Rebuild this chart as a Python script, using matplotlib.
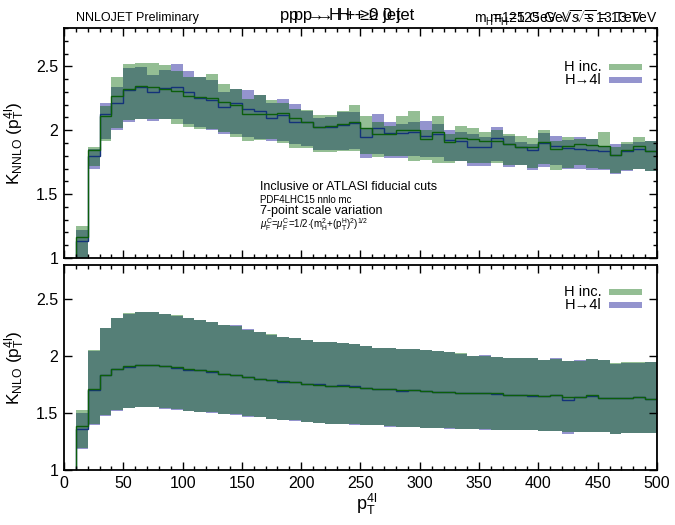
import numpy as np
import matplotlib.pyplot as plt
from matplotlib.patches import Rectangle
from matplotlib.ticker import MultipleLocator, NullLocator

plt.rcParams['font.family'] = ['Liberation Sans', 'DejaVu Sans']
plt.rcParams['mathtext.fontset'] = 'custom'
plt.rcParams['mathtext.rm'] = 'Liberation Sans'
plt.rcParams['mathtext.it'] = 'Liberation Sans:italic'

# 10 GeV bins in pT(4l), 10 -> 500 GeV
edges = np.arange(10, 501, 10)

# ---- NNLO K-factor (top panel) ----
nnlo_inc_c = [1.168, 1.845, 2.115, 2.27, 2.326, 2.345, 2.34, 2.32, 2.305, 2.268,
              2.26, 2.25, 2.22, 2.194, 2.128, 2.128, 2.128, 2.137, 2.095, 2.068,
              2.024, 2.03, 2.05, 2.063, 2.016, 1.97, 1.97, 2.0, 2.005, 1.935,
              1.99, 1.91, 1.937, 1.93, 1.918, 1.918, 1.892, 1.866, 1.866, 1.91,
              1.852, 1.873, 1.892, 1.884, 1.878, 1.81, 1.845, 1.873, 1.834]
nnlo_inc_up = [1.247, 1.87, 2.19, 2.42, 2.518, 2.53, 2.523, 2.51, 2.463, 2.418,
               2.42, 2.444, 2.365, 2.326, 2.247, 2.273, 2.234, 2.21, 2.168, 2.155,
               2.12, 2.12, 2.147, 2.194, 2.115, 2.063, 2.036, 2.11, 2.147, 2.0,
               2.115, 1.97, 2.03, 2.016, 1.99, 2.0, 1.97, 1.957, 1.937, 2.0,
               1.918, 1.945, 1.93, 1.93, 1.99, 1.87, 1.905, 1.95, 1.913]
nnlo_inc_lo = [0.95, 1.72, 1.918, 2.02, 2.08, 2.09, 2.089, 2.085, 2.05, 2.024,
               2.01, 2.01, 1.984, 1.95, 1.918, 1.925, 1.93, 1.90, 1.86, 1.858,
               1.83, 1.83, 1.835, 1.84, 1.813, 1.787, 1.80, 1.80, 1.76, 1.77,
               1.742, 1.74, 1.76, 1.742, 1.742, 1.742, 1.726, 1.725, 1.708, 1.734,
               1.69, 1.708, 1.725, 1.708, 1.70, 1.665, 1.69, 1.70, 1.68]

nnlo_4l_c = [1.13, 1.80, 2.13, 2.21, 2.313, 2.335, 2.30, 2.33, 2.34, 2.30,
             2.25, 2.234, 2.18, 2.21, 2.168, 2.15, 2.095, 2.12, 2.063, 2.068,
             2.024, 2.024, 2.04, 2.055, 1.95, 2.016, 1.98, 1.98, 1.984, 1.955,
             1.97, 1.926, 1.913, 1.866, 1.866, 1.937, 1.892, 1.87, 1.845, 1.90,
             1.878, 1.86, 1.852, 1.847, 1.84, 1.81, 1.84, 1.85, 1.835]
nnlo_4l_up = [1.22, 1.85, 2.21, 2.34, 2.49, 2.497, 2.43, 2.47, 2.515, 2.463,
              2.42, 2.39, 2.30, 2.326, 2.313, 2.273, 2.21, 2.247, 2.207, 2.15,
              2.095, 2.10, 2.14, 2.14, 2.02, 2.128, 2.063, 2.05, 2.063, 2.076,
              2.05, 2.0, 1.99, 1.97, 1.95, 2.024, 1.955, 1.91, 1.89, 1.98,
              1.957, 1.925, 1.945, 1.93, 1.87, 1.89, 1.89, 1.91, 1.913]
nnlo_4l_lo = [0.93, 1.695, 1.93, 2.0, 2.068, 2.09, 2.07, 2.09, 2.09, 2.05,
              2.024, 2.0, 1.97, 1.97, 1.945, 1.93, 1.915, 1.918, 1.892, 1.878,
              1.847, 1.847, 1.847, 1.852, 1.78, 1.813, 1.785, 1.785, 1.80, 1.787,
              1.787, 1.76, 1.76, 1.72, 1.72, 1.76, 1.715, 1.725, 1.69, 1.71,
              1.725, 1.695, 1.695, 1.69, 1.69, 1.655, 1.68, 1.70, 1.68]

# ---- NLO K-factor (bottom panel) ----
nlo_inc_c = [1.384, 1.71, 1.834, 1.89, 1.91, 1.92, 1.923, 1.91, 1.90, 1.883,
             1.877, 1.865, 1.843, 1.838, 1.82, 1.80, 1.79, 1.778, 1.772, 1.758,
             1.75, 1.741, 1.741, 1.725, 1.721, 1.715, 1.71, 1.703, 1.70, 1.697,
             1.689, 1.685, 1.677, 1.675, 1.672, 1.672, 1.66, 1.66, 1.655, 1.652,
             1.66, 1.645, 1.645, 1.655, 1.63, 1.63, 1.635, 1.64, 1.625]
nlo_inc_up = [1.53, 2.05, 2.25, 2.337, 2.375, 2.386, 2.386, 2.37, 2.357, 2.337,
              2.316, 2.30, 2.273, 2.268, 2.232, 2.212, 2.19, 2.17, 2.157, 2.14,
              2.127, 2.122, 2.113, 2.105, 2.087, 2.075, 2.07, 2.065, 2.061, 2.052,
              2.046, 2.035, 2.023, 2.003, 2.005, 1.995, 1.982, 1.982, 1.98, 1.968,
              1.975, 1.959, 1.959, 1.974, 1.968, 1.935, 1.945, 1.945, 1.945]
nlo_inc_lo = [1.19, 1.40, 1.48, 1.523, 1.543, 1.552, 1.552, 1.54, 1.532, 1.517,
              1.508, 1.505, 1.49, 1.488, 1.47, 1.465, 1.45, 1.44, 1.436, 1.42,
              1.415, 1.407, 1.407, 1.40, 1.394, 1.394, 1.385, 1.378, 1.378, 1.372,
              1.37, 1.365, 1.363, 1.363, 1.357, 1.355, 1.35, 1.35, 1.349, 1.343,
              1.343, 1.334, 1.334, 1.334, 1.334, 1.32, 1.326, 1.329, 1.329]

nlo_4l_c = [1.363, 1.70, 1.832, 1.888, 1.908, 1.918, 1.921, 1.912, 1.898, 1.881,
            1.875, 1.863, 1.845, 1.836, 1.818, 1.802, 1.788, 1.776, 1.774, 1.756,
            1.752, 1.74, 1.745, 1.735, 1.719, 1.714, 1.712, 1.695, 1.701, 1.695,
            1.687, 1.686, 1.675, 1.673, 1.673, 1.67, 1.658, 1.662, 1.653, 1.65,
            1.662, 1.616, 1.643, 1.653, 1.628, 1.632, 1.633, 1.638, 1.627]
nlo_4l_up = [1.50, 2.048, 2.248, 2.335, 2.373, 2.384, 2.385, 2.369, 2.355, 2.336,
             2.314, 2.298, 2.271, 2.273, 2.237, 2.21, 2.188, 2.168, 2.156, 2.138,
             2.125, 2.12, 2.118, 2.103, 2.085, 2.073, 2.068, 2.063, 2.059, 2.05,
             2.044, 2.033, 2.021, 2.001, 2.01, 1.993, 1.98, 1.98, 1.985, 1.966,
             1.98, 1.957, 1.965, 1.972, 1.966, 1.933, 1.943, 1.943, 1.95]
nlo_4l_lo = [1.185, 1.398, 1.478, 1.521, 1.541, 1.55, 1.55, 1.538, 1.53, 1.515,
             1.506, 1.503, 1.488, 1.486, 1.468, 1.463, 1.448, 1.438, 1.434, 1.418,
             1.413, 1.405, 1.405, 1.398, 1.392, 1.392, 1.378, 1.376, 1.376, 1.37,
             1.368, 1.363, 1.361, 1.361, 1.355, 1.353, 1.348, 1.348, 1.347, 1.341,
             1.341, 1.32, 1.332, 1.332, 1.332, 1.32, 1.324, 1.327, 1.327]

GREEN = '#006400'
BLUE = '#00008b'
ALPHA = 0.42

fig = plt.figure(figsize=(6.75, 5.25), dpi=100)
ax1 = fig.add_axes([0.0948, 0.5086, 0.8785, 0.438])
ax2 = fig.add_axes([0.0948, 0.1048, 0.8785, 0.3905])


def draw_panel(ax, b_c, b_up, b_lo, g_c, g_up, g_lo, key_y, key_dy):
    # bands: blue first, green on top (overlap gives the dark teal)
    ax.stairs(b_up, edges, baseline=b_lo, fill=True, color=BLUE, alpha=ALPHA, lw=0)
    ax.stairs(g_up, edges, baseline=g_lo, fill=True, color=GREEN, alpha=ALPHA, lw=0)
    # central values
    ax.stairs(b_c, edges, baseline=0, color='#13327a', lw=1.0)
    ax.stairs(g_c, edges, baseline=0, color='#0b5e0b', lw=1.0)
    ax.set_xlim(0, 500)
    ax.set_ylim(1, 2.8)
    ax.set_yticks([1, 1.5, 2, 2.5], ['1', '1.5', '2', '2.5'])
    ax.xaxis.set_major_locator(MultipleLocator(50))
    ax.xaxis.set_minor_locator(MultipleLocator(10))
    ax.tick_params(which='both', direction='in', top=True, right=True,
                   labelsize=11.5, width=1.0)
    ax.tick_params(which='major', length=6, pad=4)
    ax.tick_params(which='minor', length=3)
    for s in ax.spines.values():
        s.set_linewidth(1.3)
    # key
    for i, (lab, col) in enumerate([('H inc.', GREEN), ('H\u21924l', BLUE)]):
        yk = key_y - i * key_dy
        ax.text(0.907, yk, lab, transform=ax.transAxes, ha='right', va='center',
                fontsize=10.5)
        ax.add_patch(Rectangle((0.919, yk - 0.013), 0.056, 0.026, transform=ax.transAxes,
                               color=col, alpha=ALPHA, lw=0))


draw_panel(ax1, nnlo_4l_c, nnlo_4l_up, nnlo_4l_lo, nnlo_inc_c, nnlo_inc_up, nnlo_inc_lo,
           0.830, 0.056)
draw_panel(ax2, nlo_4l_c, nlo_4l_up, nlo_4l_lo, nlo_inc_c, nlo_inc_up, nlo_inc_lo,
           0.868, 0.063)

ax1.yaxis.set_minor_locator(MultipleLocator(0.1))
ax2.yaxis.set_minor_locator(NullLocator())
ax1.tick_params(labelbottom=False)

ax1.set_ylabel(r'K$_{\mathrm{NNLO}}$ (p$_{\mathrm{T}}^{\mathrm{4l}}$)', fontsize=12.5)
ax2.set_ylabel(r'K$_{\mathrm{NLO}}$ (p$_{\mathrm{T}}^{\mathrm{4l}}$)', fontsize=12.5)
ax1.yaxis.set_label_coords(-0.062, 0.5)
ax2.yaxis.set_label_coords(-0.062, 0.5)
ax2.set_xlabel(r'p$_{\mathrm{T}}^{\mathrm{4l}}$', fontsize=13)
ax2.xaxis.set_label_coords(0.51, -0.105)

# header texts (two overlapping copies as in the original)
fig.text(0.1126, 0.9657, 'NNLOJET Preliminary', fontsize=9, va='center')
fig.text(0.415, 0.971, 'p p \u2192 H + \u22650 jet', fontsize=12, va='center')
fig.text(0.428, 0.971, 'p p \u2192 H + \u2265 0 jet', fontsize=12, va='center')
fig.text(0.952, 0.9657, r'm$_{\mathrm{H}}$=125 GeV $\sqrt{s}$ = 13 TeV', fontsize=10,
         ha='right', va='center')
fig.text(0.9733, 0.9657, r'm$_{\mathrm{H}}$=125 GeV $\sqrt{s}$ = 13 TeV', fontsize=10,
         ha='right', va='center')

# run info in the top panel
fig.text(0.385, 0.6438, 'Inclusive or ATLASl fiducial cuts', fontsize=9, va='center')
fig.text(0.385, 0.6181, 'PDF4LHC15 nnlo mc', fontsize=7, va='center')
fig.text(0.385, 0.598, '7-point scale variation', fontsize=9, va='center')
fig.text(0.385, 0.5714,
         r'$\mu_{\mathrm{F}}^{\mathrm{C}}$=$\mu_{\mathrm{F}}^{\mathrm{C}}$=1/2$\cdot$'
         r'(m$_{\mathrm{H}}^{2}$+(p$_{\mathrm{T}}^{\mathrm{H}}$)$^{2}$)$^{1/2}$',
         fontsize=7, va='center')

fig.savefig('out.png', dpi=100)
